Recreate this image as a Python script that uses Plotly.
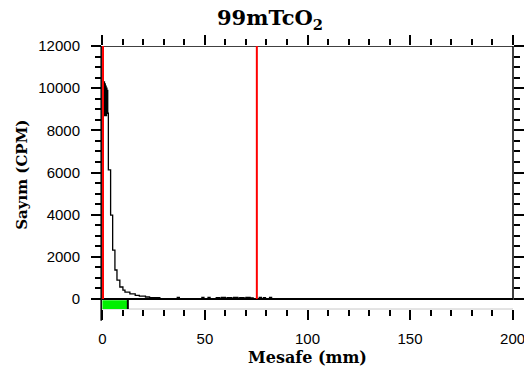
import plotly.graph_objects as go

# ---- data ----
dist_mm = [0.0, 0.8, 1.0, 1.2, 1.4, 1.6, 1.8, 2.0, 2.2, 2.4, 2.6, 2.9,
           4.0, 5.0, 6.1, 7.1, 8.5, 10.0, 11.0, 13.4, 16.0, 18.0, 21.0, 23.0, 26.0, 28.0,
           36.5, 37.5, 48.5, 49.5, 51.5, 52.5,
           55.5, 57.0, 58.0, 60.0, 61.0, 63.0, 64.0, 66.0, 67.0, 69.0, 70.0, 72.0, 73.5,
           76.5, 77.5, 78.5, 79.5, 81.5, 82.5, 200.0]
counts_cpm = [10300, 10300, 8700, 10200, 8800, 10100, 8700, 10000, 8800, 9900, 8820, 6120,
              3980, 2320, 1375, 900, 570, 420, 330, 240, 170, 140, 95, 70, 60, 10,
              80, 10, 80, 10, 80, 10,
              70, 40, 80, 40, 70, 40, 80, 40, 70, 40, 80, 50, 10,
              80, 10, 70, 10, 80, 10, 10]
marker_lines_mm = [0, 75]          # red vertical markers
green_region_mm = [0, 12]          # green region on the baseline
y_ticks = [0, 2000, 4000, 6000, 8000, 10000, 12000]
y_tick_labels = ["0", "2000", "4000", "6000", "8000", "10000", "12000"]
x_ticks = [0, 50, 100, 150, 200]
x_tick_labels = ["0", "50", "100", "150", "200"]

title_text = "99mTcO<sub>2</sub>"
x_title = "Mesafe (mm)"
y_title = "Sayım (CPM)"

Y_MIN, Y_MAX = -474, 12000
X_MIN, X_MAX = -0.2, 200.2

fig = go.Figure()
fig.add_trace(go.Scatter(
    x=dist_mm, y=counts_cpm, mode="lines", line_shape="hv",
    line=dict(color="black", width=1.3), showlegend=False, hoverinfo="skip"))

shapes = []
# frame pieces
shapes.append(dict(type="line", xref="paper", yref="y", x0=0, x1=1, y0=Y_MAX, y1=Y_MAX,
                   line=dict(color="black", width=1.5)))
shapes.append(dict(type="line", xref="paper", yref="y", x0=1, x1=1, y0=-50, y1=Y_MAX,
                   line=dict(color="black", width=1.5)))
shapes.append(dict(type="line", xref="paper", yref="paper", x0=-0.002, x1=-0.002, y0=-0.045, y1=1,
                   line=dict(color="black", width=1.5)))
shapes.append(dict(type="line", xref="paper", yref="paper", x0=0, x1=1, y0=0, y1=0,
                   line=dict(color="#c8c8c8", width=1)))
# green region
shapes.append(dict(type="rect", xref="x", yref="y", x0=green_region_mm[0], x1=green_region_mm[1],
                   y0=Y_MIN, y1=-60, fillcolor="#00f000", line=dict(width=0), layer="above"))
shapes.append(dict(type="line", xref="x", yref="y", x0=green_region_mm[1] + 0.4, x1=green_region_mm[1] + 0.4,
                   y0=Y_MIN, y1=-20, line=dict(color="black", width=2)))
# red markers
for m in marker_lines_mm:
    shapes.append(dict(type="line", xref="x", yref="y", x0=m + 0.3, x1=m + 0.3, y0=0, y1=Y_MAX,
                       line=dict(color="#ff0000", width=2), layer="above"))

tick_font = dict(family="Liberation Sans, Arial", size=15, color="black")
fig.update_layout(
    width=524, height=374,
    margin=dict(l=102, r=11, t=46, b=65),
    paper_bgcolor="white", plot_bgcolor="white",
    title=dict(text=title_text, x=270 / 524, xref="container", xanchor="center",
               y=1 - 18 / 374, yref="container", yanchor="middle",
               font=dict(family="DejaVu Serif", size=21, color="black", weight="bold")),
    shapes=shapes,
    annotations=[
        dict(text=x_title, xref="paper", yref="paper", x=0.5, y=-0.186, showarrow=False,
             xanchor="center", yanchor="middle",
             font=dict(family="DejaVu Serif", size=16, color="black", weight="bold")),
        dict(text=y_title, xref="paper", yref="paper", x=-0.195, y=0.51, showarrow=False,
             textangle=-90, xanchor="center", yanchor="middle",
             font=dict(family="DejaVu Serif", size=15, color="black", weight="bold")),
    ],
)
fig.update_xaxes(
    range=[X_MIN, X_MAX], tickmode="array", tickvals=x_ticks, ticktext=x_tick_labels,
    ticks="outside", ticklen=10, tickwidth=1.5, tickcolor="black",
    minor=dict(dtick=10, tick0=0, ticks="outside", ticklen=6, tickwidth=1.5, tickcolor="black"),
    showline=False, mirror="ticks", showgrid=False, zeroline=False,
    tickfont=tick_font, ticklabelstandoff=6, ticklabeloverflow="allow", automargin=False,
)
fig.update_yaxes(
    range=[Y_MIN, Y_MAX], tickmode="array", tickvals=y_ticks, ticktext=y_tick_labels,
    ticks="outside", ticklen=10, tickwidth=1.5, tickcolor="black",
    minor=dict(dtick=500, tick0=0, ticks="outside", ticklen=6, tickwidth=1.5, tickcolor="black"),
    showline=False, mirror="ticks", showgrid=False,
    zeroline=True, zerolinecolor="black", zerolinewidth=1.5,
    tickfont=tick_font, ticklabelstandoff=8, automargin=False,
)

fig.write_html("out.html")
